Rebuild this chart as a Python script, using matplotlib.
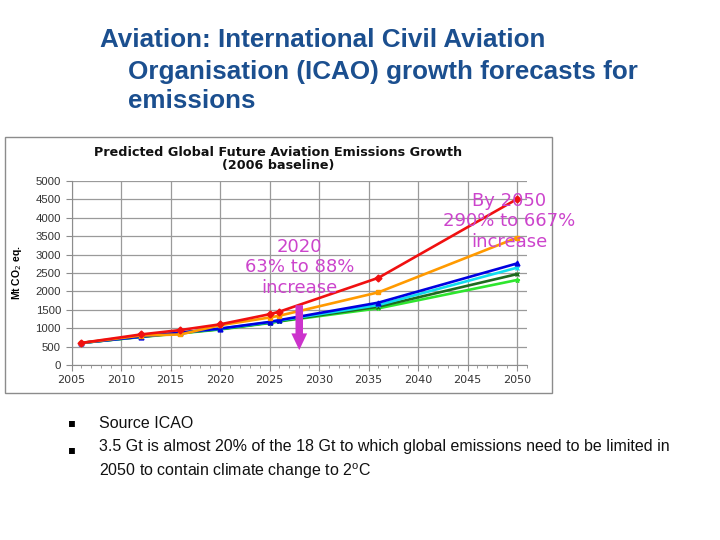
import matplotlib
matplotlib.use("Agg")
import matplotlib.pyplot as plt
from matplotlib.patches import Rectangle
from matplotlib.ticker import MultipleLocator

# ---- data ----
years = [2006, 2012, 2016, 2020, 2025, 2026, 2036, 2050]
red = [600, 830, 950, 1105, 1380, 1450, 2370, 4510]
orange = [600, 800, 830, 1080, 1290, 1340, 1975, 3460]
blue = [600, 770, 880, 990, 1170, 1220, 1695, 2760]
cyan = [600, 770, 880, 985, 1160, 1210, 1630, 2645]
dkgreen = [600, 765, 870, 975, 1150, 1195, 1585, 2470]
ltgreen = [600, 760, 860, 965, 1140, 1185, 1540, 2310]
xticks = [2005, 2010, 2015, 2020, 2025, 2030, 2035, 2040, 2045, 2050]
yticks = [0, 500, 1000, 1500, 2000, 2500, 3000, 3500, 4000, 4500, 5000]

title_lines = ["Aviation: International Civil Aviation",
               "Organisation (ICAO) growth forecasts for",
               "emissions"]
chart_title = "Predicted Global Future Aviation Emissions Growth\n(2006 baseline)"
note_2020 = "2020\n63% to 88%\nincrease"
note_2050 = "By 2050\n290% to 667%\nincrease"
bullets = ["Source ICAO",
           "3.5 Gt is almost 20% of the 18 Gt to which global emissions need to be limited in\n2050 to contain climate change to 2$^{\\mathregular{o}}$C"]

W, H = 720, 540
fig = plt.figure(figsize=(7.2, 5.4), dpi=100)
fig.patch.set_facecolor("white")

def fx(x):
    return x / W

def fy(y):
    return 1 - y / H

# slide title
blue_title = "#1B4F8F"
fig.text(fx(100), fy(40), title_lines[0], color=blue_title, fontsize=18.7,
         fontweight="bold", family="Liberation Sans", va="center", ha="left")
fig.text(fx(128), fy(72), title_lines[1], color=blue_title, fontsize=18.7,
         fontweight="bold", family="Liberation Sans", va="center", ha="left")
fig.text(fx(128), fy(101), title_lines[2], color=blue_title, fontsize=18.7,
         fontweight="bold", family="Liberation Sans", va="center", ha="left")

# chart frame
frame = Rectangle((fx(5), fy(393)), fx(552 - 5), (393 - 137) / H,
                  transform=fig.transFigure, facecolor="none",
                  edgecolor="#8C8C8C", lw=1.0, zorder=-5)
fig.add_artist(frame)

fig.text(fx(278), fy(158.5), chart_title, ha="center", va="center",
         fontsize=9.2, fontweight="bold", family="DejaVu Sans",
         linespacing=1.0, color="#111111")

# axes: 2005 at x=71.5, 2051 at x=527 ; 0 at y=365, 5000 at y=181
ax = fig.add_axes([fx(71.5), fy(365), fx(527 - 71.5), (365 - 181) / H])
ax.patch.set_alpha(0)
ax.set_xlim(2005, 2051)
ax.set_ylim(0, 5000)
ax.set_xticks(xticks)
ax.set_yticks(yticks)
ax.xaxis.set_minor_locator(MultipleLocator(1))
ax.grid(True, which="major", color="#9A9A9A", lw=0.9)
ax.set_axisbelow(True)
for s in ["top", "right"]:
    ax.spines[s].set_visible(False)
for s in ["left", "bottom"]:
    ax.spines[s].set_color("#8C8C8C")
ax.tick_params(axis="both", which="major", colors="#8C8C8C", length=4,
               labelcolor="#333333")
ax.tick_params(axis="x", which="minor", colors="#8C8C8C", length=2)
for lab in ax.get_xticklabels():
    lab.set_family("DejaVu Sans")
    lab.set_fontsize(8)
for lab in ax.get_yticklabels():
    lab.set_family("Liberation Sans")
    lab.set_fontsize(8.2)
ax.set_ylabel("Mt CO$_2$ eq.", fontsize=7.5, fontweight="bold",
              family="Liberation Sans", labelpad=8)

series = [
    (ltgreen, "#2EE62E", "*"),
    (dkgreen, "#1E6B1E", "x"),
    (cyan, "#11DDEE", "x"),
    (blue, "#0000E0", "^"),
    (orange, "#FF9A00", "s"),
    (red, "#F01010", "D"),
]
for vals, col, mk in series:
    ax.plot(years, vals, color=col, lw=1.9, marker=mk, markersize=3.5,
            markeredgewidth=1.0, clip_on=False, zorder=3)

mag = "#CC44CC"
ax.text(2028, 2650, note_2020, ha="center", va="center", color=mag,
        fontsize=13, family="DejaVu Sans", linespacing=1.15, zorder=5)
ax.text(2049.2, 3900, note_2050, ha="center", va="center", color=mag,
        fontsize=13, family="DejaVu Sans", linespacing=1.15, zorder=5)
ax.annotate("", xy=(2028, 330), xytext=(2028, 1700),
            arrowprops=dict(arrowstyle="simple,head_length=1.0,head_width=0.95,tail_width=0.45",
                            mutation_scale=12, color="#CC33CC", lw=0),
            zorder=6)

# bullets
bx, tx = 68, 99
fig.text(fx(bx), fy(423), "\u25aa", fontsize=8.5, va="center", ha="left",
         family="DejaVu Sans")
fig.text(fx(tx), fy(423), bullets[0], fontsize=11.5, va="center", ha="left",
         family="Liberation Sans", color="#111111")
fig.text(fx(bx), fy(450), "\u25aa", fontsize=8.5, va="center", ha="left",
         family="DejaVu Sans")
fig.text(fx(tx), fy(460), bullets[1], fontsize=11.5, va="center", ha="left",
         family="Liberation Sans", color="#111111", linespacing=1.45)

fig.savefig("out.png", dpi=100)
